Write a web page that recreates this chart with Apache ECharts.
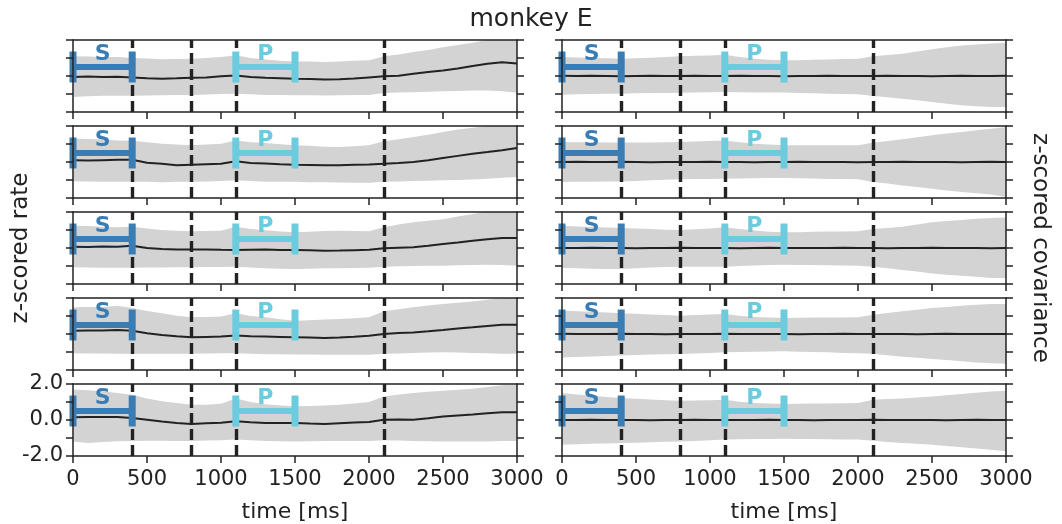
<!DOCTYPE html>
<html>
<head>
<meta charset="utf-8">
<script src="https://cdn.jsdelivr.net/npm/echarts@6/dist/echarts.min.js"></script>
<style>
  html, body { margin: 0; padding: 0; background: #fff; }
  #main { width: 1062px; height: 524px; }
</style>
</head>
<body>
<div id="main"></div>
<script>
// time axis, one sample each 100 ms
var times = [0, 100, 200, 300, 400, 500, 600, 700, 800, 900, 1000, 1100, 1200, 1300, 1400, 1500,
    1600, 1700, 1800, 1900, 2000, 2100, 2200, 2300, 2400, 2500, 2600, 2700, 2800, 2900, 3000];

// task events (dashed lines) and epochs
var eventTimes = [400, 800, 1100, 2100];
var epochNames = ['S', 'P'];
var epochStart = [0, 1100];
var epochEnd = [400, 1500];

// left column: z-scored rate (mean, upper and lower edge of the band)
var rateMean1 = [-0.05, -0.03, -0.06, -0.04, -0.08, -0.12, -0.15, -0.13, -0.1, -0.08, -0.02, 0.03, -0.06, -0.1, -0.12, -0.15,
    -0.16, -0.19, -0.18, -0.14, -0.08, -0.02, 0.02, 0.12, 0.22, 0.3, 0.42, 0.55, 0.68, 0.76, 0.7];
var rateUpper1 = [1.1, 1.08, 1.05, 1.05, 1.0, 0.97, 0.93, 0.95, 0.96, 1.0, 1.05, 1.15, 1.0, 0.92, 0.85, 0.8,
    0.8, 0.78, 0.8, 0.85, 0.88, 1.1, 1.2, 1.33, 1.45, 1.6, 1.72, 1.85, 2.0, 2.1, 2.1];
var rateLower1 = [-1.17, -1.12, -1.1, -1.1, -1.1, -1.08, -1.07, -1.06, -1.07, -1.03, -1.0, -0.98, -1.02, -1.05, -1.06, -1.07,
    -1.07, -1.08, -1.07, -1.06, -1.05, -0.95, -0.92, -0.9, -0.88, -0.85, -0.83, -0.8, -0.8, -0.85, -0.93];

var rateMean2 = [0.1, 0.08, 0.1, 0.12, 0.12, -0.04, -0.1, -0.18, -0.15, -0.12, -0.1, 0.04, -0.05, -0.08, -0.12, -0.15,
    -0.16, -0.18, -0.18, -0.15, -0.14, -0.1, -0.06, 0, 0.1, 0.22, 0.34, 0.46, 0.55, 0.65, 0.78];
var rateUpper2 = [1.3, 1.28, 1.25, 1.2, 1.18, 1.1, 1.02, 0.97, 0.93, 0.97, 1.02, 1.2, 1.1, 1.05, 0.98, 0.93,
    0.9, 0.85, 0.83, 0.87, 0.93, 1.15, 1.27, 1.39, 1.52, 1.67, 1.8, 1.9, 2.0, 2.1, 2.1];
var rateLower2 = [-1.07, -1.08, -1.1, -1.1, -1.1, -1.1, -1.12, -1.1, -1.1, -1.08, -1.05, -1.02, -1.06, -1.1, -1.1, -1.1,
    -1.12, -1.12, -1.14, -1.15, -1.15, -1.1, -1.08, -1.05, -1.04, -1.02, -1.0, -0.97, -0.93, -0.88, -0.83];

var rateMean3 = [0.07, 0.06, 0.08, 0.07, 0.13, 0, -0.05, -0.09, -0.09, -0.08, -0.1, -0.11, -0.1, -0.09, -0.11, -0.11,
    -0.13, -0.15, -0.14, -0.12, -0.1, -0.02, 0.01, 0.04, 0.12, 0.22, 0.3, 0.4, 0.48, 0.55, 0.55];
var rateUpper3 = [1.24, 1.22, 1.18, 1.15, 1.18, 1.08, 1.0, 0.96, 0.93, 0.95, 0.96, 1.18, 1.05, 0.98, 0.92, 0.87,
    0.9, 0.94, 0.96, 0.95, 0.93, 1.15, 1.3, 1.43, 1.52, 1.6, 1.75, 1.89, 2.03, 2.1, 2.1];
var rateLower3 = [-1.07, -1.08, -1.1, -1.1, -1.1, -1.09, -1.08, -1.07, -1.07, -1.06, -1.05, -1.04, -1.08, -1.12, -1.15, -1.17,
    -1.15, -1.13, -1.12, -1.11, -1.1, -1.04, -1.02, -1.0, -0.99, -0.98, -0.96, -0.94, -0.93, -0.95, -0.98];

var rateMean4 = [0.18, 0.2, 0.2, 0.22, 0.18, 0.04, -0.05, -0.13, -0.18, -0.16, -0.14, -0.09, -0.12, -0.14, -0.16, -0.18,
    -0.2, -0.22, -0.19, -0.15, -0.1, 0, 0.05, 0.09, 0.15, 0.22, 0.3, 0.37, 0.45, 0.52, 0.52];
var rateUpper4 = [1.48, 1.5, 1.5, 1.57, 1.45, 1.28, 1.15, 1.02, 0.93, 0.95, 0.97, 1.15, 1.0, 0.93, 0.82, 0.74,
    0.77, 0.8, 0.83, 0.88, 0.93, 1.26, 1.38, 1.48, 1.58, 1.67, 1.74, 1.81, 1.9, 2.0, 2.05];
var rateLower4 = [-1.07, -1.08, -1.08, -1.1, -1.1, -1.1, -1.1, -1.1, -1.1, -1.08, -1.07, -1.07, -1.1, -1.12, -1.13, -1.14,
    -1.14, -1.15, -1.15, -1.15, -1.15, -1.1, -1.08, -1.05, -1.03, -1.02, -1.03, -1.05, -1.07, -1.1, -1.1];

var rateMean5 = [0.15, 0.16, 0.17, 0.17, 0.11, 0.02, -0.08, -0.17, -0.22, -0.18, -0.15, -0.07, -0.13, -0.17, -0.17, -0.17,
    -0.2, -0.22, -0.18, -0.14, -0.11, 0.02, 0.03, 0.02, 0.1, 0.2, 0.25, 0.3, 0.37, 0.43, 0.43];
var rateUpper5 = [1.69, 1.65, 1.6, 1.5, 1.4, 1.2, 1.04, 0.95, 0.85, 0.85, 0.9, 1.19, 1.0, 0.88, 0.8, 0.76,
    0.78, 0.8, 0.85, 0.92, 1.0, 1.31, 1.42, 1.5, 1.57, 1.63, 1.68, 1.74, 1.83, 1.93, 1.96];
var rateLower5 = [-1.19, -1.28, -1.22, -1.18, -1.16, -1.15, -1.15, -1.16, -1.16, -1.14, -1.12, -1.09, -1.13, -1.16, -1.18, -1.19,
    -1.18, -1.17, -1.16, -1.16, -1.16, -1.12, -1.14, -1.16, -1.18, -1.19, -1.2, -1.2, -1.19, -1.17, -1.16];

// right column: z-scored covariance
var covMean1 = [0.01, 0, 0.01, 0, -0.01, 0, 0.01, 0, 0, 0.01, 0, 0, 0.01, 0, 0, -0.01,
    0, 0, 0.01, 0, 0, 0, 0.01, 0, 0, -0.01, 0, 0.01, 0, 0, 0.01];
var covUpper1 = [1.05, 1.03, 1.0, 0.98, 0.96, 0.98, 1.02, 1.06, 1.1, 1.12, 1.14, 1.18, 1.05, 0.96, 0.9, 0.87,
    0.88, 0.9, 0.92, 0.94, 0.96, 1.1, 1.17, 1.24, 1.36, 1.48, 1.6, 1.7, 1.75, 1.8, 1.85];
var covLower1 = [-1.04, -1.02, -1.0, -0.99, -0.98, -0.96, -0.95, -0.94, -0.93, -0.92, -0.9, -0.89, -0.9, -0.91, -0.92, -0.92,
    -0.94, -0.96, -0.98, -1.0, -1.02, -1.11, -1.18, -1.26, -1.35, -1.44, -1.54, -1.63, -1.68, -1.72, -1.72];

var covMean2 = [0, 0.01, 0, 0, 0.01, 0, -0.01, 0, 0, 0, 0.01, 0, 0, -0.01, 0, 0,
    0.01, 0, 0, 0, -0.01, 0, 0, 0.01, 0, 0, 0, -0.01, 0, 0.01, 0];
var covUpper2 = [1.11, 1.1, 1.1, 1.09, 1.08, 1.08, 1.09, 1.1, 1.11, 1.14, 1.17, 1.2, 1.1, 1.02, 0.97, 0.93,
    0.93, 0.93, 0.93, 0.93, 0.93, 1.07, 1.16, 1.26, 1.37, 1.48, 1.58, 1.67, 1.76, 1.85, 1.94];
var covLower2 = [-1.11, -1.1, -1.1, -1.09, -1.08, -1.05, -1.02, -0.99, -0.96, -0.95, -0.94, -0.93, -0.92, -0.9, -0.89, -0.89,
    -0.9, -0.92, -0.94, -0.95, -0.96, -1.11, -1.2, -1.3, -1.39, -1.48, -1.58, -1.67, -1.74, -1.81, -1.94];

var covMean3 = [0, 0, 0.01, 0, 0, -0.01, 0, 0, 0.01, 0, 0, 0, -0.01, 0, 0.01, 0,
    0, 0, 0, 0.01, 0, 0, -0.01, 0, 0, 0.01, 0, 0, 0, -0.01, 0];
var covUpper3 = [1.24, 1.2, 1.17, 1.14, 1.11, 1.08, 1.05, 1.02, 1.0, 1.04, 1.08, 1.15, 1.05, 0.97, 0.9, 0.87,
    0.88, 0.9, 0.91, 0.92, 0.93, 1.05, 1.11, 1.18, 1.3, 1.43, 1.5, 1.56, 1.62, 1.67, 1.7];
var covLower3 = [-1.11, -1.13, -1.15, -1.16, -1.17, -1.12, -1.08, -1.06, -1.04, -1.04, -1.04, -1.04, -1.0, -0.97, -0.95, -0.93,
    -0.94, -0.95, -0.96, -0.97, -0.98, -1.04, -1.12, -1.22, -1.31, -1.41, -1.48, -1.54, -1.6, -1.67, -1.67];

var covMean4 = [0.01, 0, 0, 0, 0.01, 0, 0, -0.01, 0, 0, 0, 0.01, 0, 0, 0, 0,
    -0.01, 0, 0, 0.01, 0, 0, 0, 0, -0.01, 0, 0.01, 0, 0, 0, 0];
var covUpper4 = [1.3, 1.27, 1.23, 1.19, 1.15, 1.12, 1.08, 1.05, 1.02, 1.05, 1.08, 1.11, 1.02, 0.95, 0.91, 0.89,
    0.9, 0.91, 0.92, 0.92, 0.93, 1.07, 1.16, 1.26, 1.35, 1.44, 1.5, 1.57, 1.62, 1.67, 1.67];
var covLower4 = [-1.3, -1.28, -1.25, -1.22, -1.2, -1.17, -1.14, -1.12, -1.11, -1.08, -1.05, -1.02, -1.0, -0.98, -0.97, -0.96,
    -0.98, -1.0, -1.02, -1.05, -1.07, -1.1, -1.18, -1.26, -1.32, -1.39, -1.45, -1.52, -1.58, -1.63, -1.65];

var covMean5 = [0, 0, 0.01, 0, 0, 0, -0.01, 0, 0, 0.01, 0, 0, 0, 0, 0.01, 0,
    0, -0.01, 0, 0, 0, 0.01, 0, 0, 0, 0, -0.01, 0, 0.01, 0, 0];
var covUpper5 = [1.5, 1.42, 1.35, 1.28, 1.22, 1.18, 1.14, 1.1, 1.07, 1.08, 1.1, 1.13, 1.02, 0.95, 0.91, 0.89,
    0.9, 0.91, 0.92, 0.93, 0.94, 1.13, 1.16, 1.19, 1.25, 1.31, 1.38, 1.44, 1.52, 1.59, 1.63];
var covLower5 = [-1.37, -1.35, -1.32, -1.3, -1.28, -1.26, -1.24, -1.21, -1.19, -1.16, -1.13, -1.09, -1.07, -1.06, -1.05, -1.04,
    -1.05, -1.06, -1.07, -1.08, -1.09, -1.15, -1.22, -1.28, -1.32, -1.37, -1.45, -1.52, -1.58, -1.65, -1.74];

var panels = [
    [rateMean1, rateUpper1, rateLower1], [rateMean2, rateUpper2, rateLower2], [rateMean3, rateUpper3, rateLower3],
    [rateMean4, rateUpper4, rateLower4], [rateMean5, rateUpper5, rateLower5],
    [covMean1, covUpper1, covLower1], [covMean2, covUpper2, covLower2], [covMean3, covUpper3, covLower3],
    [covMean4, covUpper4, covLower4], [covMean5, covUpper5, covLower5]
];

var FONT = 'DejaVu Sans';
var INK = '#222';
var BAND = '#d3d3d3';
var epochColor = {S: '#3a7db5', P: '#6ccbdd'};
var colLeft = [73, 562];
var rowTop = [40, 126, 212, 298, 384];
var BAR_Y = 0.5, CAP = 0.86;

var grids = [], xAxes = [], yAxes = [], series = [];

panels.forEach(function (pd, p) {
    var col = p < 5 ? 0 : 1, row = p % 5;
    var bottomRow = row === 4;
    grids.push({left: colLeft[col], top: rowTop[row], width: 444, height: 72});

    var axisLine = {show: true, onZero: false, lineStyle: {color: INK, width: 1.5}};
    // bottom x axis with ticks, top one only draws the frame
    xAxes.push({
        gridIndex: p, type: 'value', min: 0, max: 3000, interval: 500, z: 6,
        axisLine: axisLine,
        axisTick: {show: true, length: 7, lineStyle: {color: INK, width: 1.5}},
        axisLabel: {
            show: bottomRow, fontFamily: FONT, fontSize: 21, color: INK, margin: 13,
            formatter: function (v) { return String(v); }
        },
        splitLine: {show: false},
        name: bottomRow ? 'time [ms]' : '', nameLocation: 'middle', nameGap: 45,
        nameTextStyle: {fontFamily: FONT, fontSize: 22, color: INK}
    });
    xAxes.push({
        gridIndex: p, type: 'value', position: 'top', min: 0, max: 3000, z: 6,
        axisLine: axisLine, axisTick: {show: false}, axisLabel: {show: false}, splitLine: {show: false}
    });
    var yTick = {show: true, length: 7, lineStyle: {color: INK, width: 1.5}};
    yAxes.push({
        gridIndex: p, type: 'value', min: -2, max: 2, interval: 1, z: 6,
        axisLine: axisLine, axisTick: yTick, splitLine: {show: false},
        axisLabel: {
            show: bottomRow && col === 0, fontFamily: FONT, fontSize: 21, color: INK, margin: 10,
            formatter: function (v) { return v % 2 === 0 ? v.toFixed(1) : ''; }
        }
    });
    yAxes.push({
        gridIndex: p, type: 'value', position: 'right', min: -2, max: 2, interval: 1, z: 6,
        axisLine: axisLine, axisTick: yTick, axisLabel: {show: false}, splitLine: {show: false}
    });

    var xi = p * 2, yi = p * 2;
    var mean = pd[0], upper = pd[1], lower = pd[2];
    // shaded band between lower and upper edge, one polygon; the event lines sit with it
    series.push({
        type: 'custom', xAxisIndex: xi, yAxisIndex: yi, silent: true, z: 2, clip: true,
        encode: {x: 0, y: [1, 2]},
        data: times.map(function (t, i) { return [t, lower[i], upper[i]]; }),
        renderItem: function (params, api) {
            if (params.dataIndex !== 0) return null;
            var pts = [];
            times.forEach(function (t, i) { pts.push(api.coord([t, upper[i]])); });
            for (var i = times.length - 1; i >= 0; i--) pts.push(api.coord([times[i], lower[i]]));
            return {type: 'polygon', shape: {points: pts}, style: {fill: BAND}};
        },
        markLine: {
            silent: true, symbol: 'none', label: {show: false}, z: 3,
            lineStyle: {color: INK, width: 3.4, type: [11, 5], opacity: 1},
            data: eventTimes.map(function (t) { return {xAxis: t}; })
        }
    });
    series.push({
        type: 'line', xAxisIndex: xi, yAxisIndex: yi, symbol: 'none', silent: true, z: 3,
        lineStyle: {color: INK, width: 2},
        data: times.map(function (t, i) { return [t, mean[i]]; })
    });
    series.push({
        type: 'custom', xAxisIndex: xi, yAxisIndex: yi, silent: true, z: 4,
        data: epochNames.map(function (n, i) { return [epochStart[i], epochEnd[i]]; }),
        renderItem: function (params, api) {
            var s = api.value(0), e = api.value(1), name = epochNames[params.dataIndex];
            var c = epochColor[name];
            var a = api.coord([s, BAR_Y]), b = api.coord([e, BAR_Y]);
            var top = api.coord([s, BAR_Y + CAP])[1], bot = api.coord([s, BAR_Y - CAP])[1];
            var txt = api.coord([(s + e) / 2, 1.2]);
            return {
                type: 'group',
                children: [
                    {type: 'line', shape: {x1: a[0], y1: a[1], x2: b[0], y2: b[1]}, style: {stroke: c, lineWidth: 6}},
                    {type: 'line', shape: {x1: a[0], y1: top, x2: a[0], y2: bot}, style: {stroke: c, lineWidth: 7}},
                    {type: 'line', shape: {x1: b[0], y1: top, x2: b[0], y2: bot}, style: {stroke: c, lineWidth: 7}},
                    {type: 'text', x: txt[0], y: txt[1], style: {
                        text: name, fill: c, font: 'bold 22px "' + FONT + '"',
                        align: 'center', verticalAlign: 'middle'
                    }}
                ]
            };
        }
    });
});

var chart = echarts.init(document.getElementById('main'), null, {renderer: 'canvas'});
chart.setOption({
    backgroundColor: '#fff',
    animation: false,
    title: {
        text: 'monkey E', left: 'center', top: 2,
        textStyle: {fontFamily: FONT, fontSize: 25, fontWeight: 'normal', color: INK}
    },
    grid: grids,
    xAxis: xAxes,
    yAxis: yAxes,
    series: series,
    graphic: [
        {type: 'text', x: 21, y: 248, rotation: Math.PI / 2, style: {
            text: 'z-scored rate', fill: INK, font: '23px "' + FONT + '"', align: 'center', verticalAlign: 'middle'}},
        {type: 'text', x: 1040, y: 248, rotation: -Math.PI / 2, style: {
            text: 'z-scored covariance', fill: INK, font: '23px "' + FONT + '"', align: 'center', verticalAlign: 'middle'}}
    ]
});

window.addEventListener('resize', function () {
    chart.resize();
});
</script>
</body>
</html>
